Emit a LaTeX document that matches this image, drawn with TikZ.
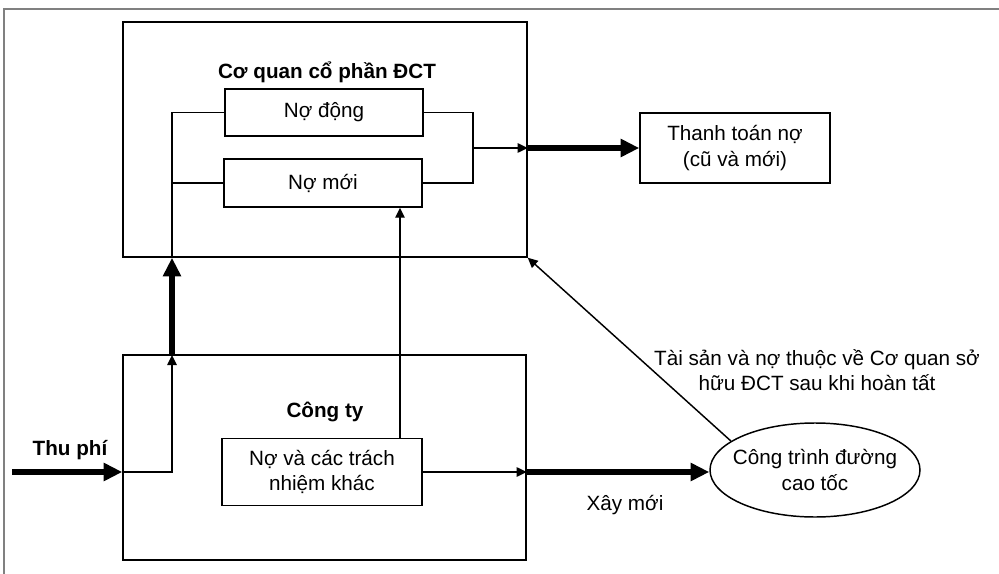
\documentclass[tikz,border=0pt]{standalone}
\usepackage{fontspec}
\setmainfont{Liberation Sans}
\usetikzlibrary{arrows.meta,shapes.geometric}
\begin{document}
\begin{tikzpicture}[x=0.75pt,y=-0.75pt,
  font=\fontsize{15.5}{19}\selectfont,
  box/.style={draw,line width=1.1pt,align=center,inner sep=0pt},
  lbl/.style={align=center,inner sep=0pt},
  thin/.style={line width=1.1pt},
  thinarrow/.style={line width=1.1pt,-{Triangle[length=7.5pt,width=7pt]}},
  thickarrow/.style={line width=4.5pt,-{Triangle[length=14pt,width=13pt]}}]
\useasboundingbox (0,0) rectangle (999,574);
\draw[line width=1.5pt,gray] (999,9.5) -- (4,9.5) -- (4,574);
% boxes
\node[box,minimum width=303pt,minimum height=176.25pt] (ctop) at (325,139.5) {};
\node[lbl,font=\fontsize{15.5}{19}\selectfont\bfseries] (ttop) at (327,72) {Cơ quan cổ phần ĐCT};
\node[box,minimum width=148.5pt,minimum height=35.25pt] (nodong) at (324,112.5) {Nợ động};
\node[box,minimum width=148.5pt,minimum height=36pt] (nomoi) at (323,183) {Nợ mới};
\node[box,minimum width=142.5pt,minimum height=52.5pt] (tt) at (735,148) {Thanh toán nợ\\(cũ và mới)};
\node[box,minimum width=302.25pt,minimum height=153.75pt] (congty) at (324.5,457.5) {};
\node[lbl,font=\fontsize{15.5}{19}\selectfont\bfseries] (tcty) at (325,412) {Công ty};
\node[box,minimum width=150pt,minimum height=50.25pt] (nova) at (322,472) {Nợ và các trách\\nhiệm khác};
\node[draw,ellipse,line width=1.1pt,minimum width=157.5pt,minimum height=70.5pt,inner sep=0pt] (ell) at (815,470) {};
\node[lbl] (elltext) at (ell.center) {Công trình đường\\cao tốc};
% labels
\node[lbl,font=\fontsize{15.5}{19}\selectfont\bfseries] (thu) at (70,450) {Thu phí};
\node[lbl] (xay) at (625,505) {Xây mới};
\node[lbl] (ts) at (817,370) {Tài sản và nợ thuộc về Cơ quan sở\\hữu ĐCT sau khi hoàn tất};
% coordinates
\coordinate (tstart) at (12,472);
\coordinate (b1) at (172,355);
\coordinate (b2) at (473,148);
\coordinate (b3) at (400,447);
% connectors
\draw[thickarrow] (tstart) -- (congty.west |- nova);
\draw[thinarrow] (congty.west |- nova) -| (b1);
\draw[thickarrow] (b1) -- (b1 |- ctop.south);
\draw[thin] (b1 |- ctop.south) |- (nodong.west);
\draw[thin] (b1 |- nomoi) -- (nomoi.west);
\draw[thin] (nodong.east) -| (b2);
\draw[thin] (nomoi.east) -| (b2);
\draw[thinarrow] (b2) -- (ctop.east |- b2);
\draw[thickarrow] (ctop.east |- b2) -- (tt.west);
\draw[thinarrow] (b3 |- nova.north) -- (b3 |- nomoi.south);
\draw[thinarrow] (nova.east) -- (congty.east |- nova);
\draw[thickarrow] (congty.east |- nova) -- (ell.west |- nova);
\draw[thinarrow] (ell.161) -- (ctop.south east);
\end{tikzpicture}
\end{document}
